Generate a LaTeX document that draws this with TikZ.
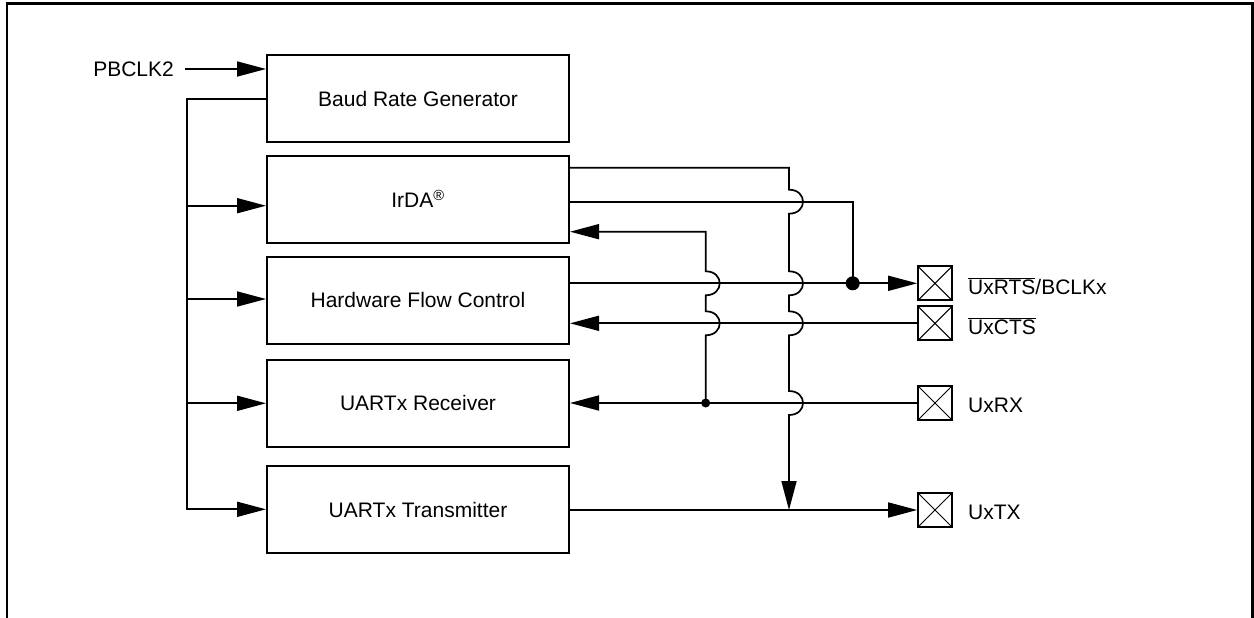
\documentclass[tikz,border=0pt]{standalone}
\usepackage{fontspec}
\setmainfont{Liberation Sans}
\usetikzlibrary{arrows.meta}
\begin{document}
\begin{tikzpicture}[x=1pt,y=-1pt,
  font=\fontsize{21}{25}\selectfont,
  blk/.style={draw, line width=2pt, minimum width=302pt, minimum height=87pt, inner sep=0pt},
  wire/.style={line width=1.7pt},
  arr/.style={wire, -{Triangle[length=29pt,width=15pt]}},
  pinbox/.style={draw, line width=1.7pt, minimum size=34pt, inner sep=0pt,
    path picture={\draw[line width=1pt] (path picture bounding box.north west) -- (path picture bounding box.south east)
      (path picture bounding box.north east) -- (path picture bounding box.south west);}},
  lbl/.style={anchor=west, inner sep=0pt},
  dot/.style={circle, fill, inner sep=0pt, minimum size=#1}
]
\useasboundingbox (0,0) rectangle (1254,618);
% frame
\draw[line width=2.5pt] (7,620) -- (7,3.5) -- (1252.5,3.5) -- (1252.5,620);

% blocks
\node[blk] (brg) at (418,98.5) {Baud Rate Generator};
\node[blk] (irda) at (418,199) {IrDA\textsuperscript{®}};
\node[blk] (hfc) at (418,300) {Hardware Flow Control};
\node[blk] (rx) at (418,403) {UARTx Receiver};
\node[blk] (tx) at (418,509.5) {UARTx Transmitter};

% pins
\node[pinbox] (rts) at (935,283.3) {};
\node[pinbox] (cts) at (935,323.3) {};
\node[pinbox] (rxp) at (935,403) {};
\node[pinbox] (txp) at (935,510) {};
\node[lbl] (lrts) at (968,286) {$\overline{\hbox{UxRTS}}$/BCLKx};
\node[lbl] (lcts) at (968,326) {$\overline{\hbox{UxCTS}}$};
\node[lbl] (lrx) at (968,405.5) {UxRX};
\node[lbl] (ltx) at (968,512.5) {UxTX};

% clock input
\node[anchor=east, inner sep=0pt] (pb) at (174,69) {PBCLK2};
\coordinate (pbs) at (185,69);
\draw[arr] (pbs) -- (pbs -| brg.west);

% clock bus
\coordinate (b0) at (187,99);
\coordinate (b1) at (187,205.7);
\coordinate (b2) at (187,299);
\coordinate (b3) at (187,403.3);
\coordinate (b4) at (187,509.3);
\draw[arr] (b0 -| brg.west) -- (b0) -- (b4) -- (b4 -| tx.west);
\draw[arr] (b1) -- (b1 -| irda.west);
\draw[arr] (b2) -- (b2 -| hfc.west);
\draw[arr] (b3) -- (b3 -| rx.west);

% junctions
\coordinate (j1) at (852.7,283.3);
\coordinate (j2) at (705.7,403);
\coordinate (t1) at (789,510);

% IrDA TX out -> transmitter line (with hops)
\draw[arr] (irda.east |- 0,167.7) -- (789,167.7)
  -- (789,189.7) .. controls (807.7,189.7) and (807.7,213.7) .. (789,213.7)
  -- (789,271.3) .. controls (807.7,271.3) and (807.7,295.3) .. (789,295.3)
  -- (789,311.3) .. controls (807.7,311.3) and (807.7,335.3) .. (789,335.3)
  -- (789,391) .. controls (807.7,391) and (807.7,415) .. (789,415)
  -- (t1);

% IrDA second out -> RTS junction
\draw[wire] (irda.east |- 0,201.7) -- (j1 |- 0,201.7) -- (j1);

% RX junction -> IrDA input (with hops)
\draw[arr] (j2) -- (705.7,335.3) .. controls (724.4,335.3) and (724.4,311.3) .. (705.7,311.3)
  -- (705.7,295.3) .. controls (724.4,295.3) and (724.4,271.3) .. (705.7,271.3)
  -- (705.7,231.7) -- (irda.east |- 0,231.7);

% HFC out -> RTS pin
\draw[arr] (hfc.east |- rts.west) -- (rts.west);
% CTS pin -> HFC
\draw[arr] (cts.west) -- (cts.west -| hfc.east);
% RX pin -> receiver
\draw[arr] (rxp.west) -- (rxp.west -| rx.east);
% transmitter -> TX pin
\draw[arr] (tx.east |- txp.west) -- (txp.west);

\node[dot=14pt] (d1) at (j1) {};
\node[dot=9pt] (d2) at (j2) {};
\end{tikzpicture}
\end{document}
